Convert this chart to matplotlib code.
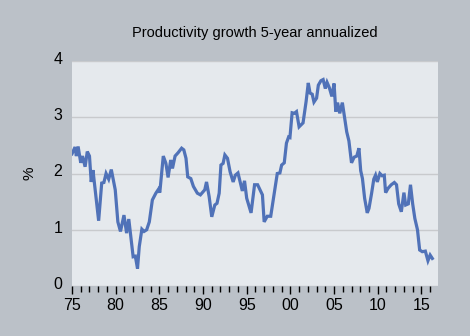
import matplotlib.pyplot as plt
import matplotlib.transforms as mtransforms
from matplotlib.ticker import FixedLocator, MultipleLocator

plt.rcParams['font.family'] = ['Liberation Sans', 'DejaVu Sans']

# productivity growth, 5-year annualized (%)
years = [
    1975.0, 1975.35, 1975.5, 1975.7, 1976.0, 1976.2, 1976.5, 1976.75, 1977.0, 1977.2,
    1977.4, 1977.65, 1978.05, 1978.4, 1978.65, 1978.9, 1979.2, 1979.5, 1979.95, 1980.25,
    1980.55, 1980.95, 1981.25, 1981.5, 1982.0, 1982.25, 1982.5, 1982.7, 1983.0, 1983.25,
    1983.55, 1983.85, 1984.2, 1984.6, 1984.9, 1985.05, 1985.45, 1985.75, 1986.0, 1986.3,
    1986.5, 1986.8, 1987.15, 1987.55, 1987.8, 1988.05, 1988.25, 1988.6, 1988.9, 1989.35,
    1989.7, 1990.2, 1990.4, 1990.7, 1991.0, 1991.35, 1991.6, 1991.85, 1992.05, 1992.3,
    1992.5, 1992.8, 1993.1, 1993.45, 1993.7, 1994.0, 1994.5, 1994.75, 1995.0, 1995.5,
    1995.9, 1996.25, 1996.8, 1997.0, 1997.35, 1997.75, 1998.1, 1998.5, 1998.8, 1999.0,
    1999.3, 1999.55, 1999.8, 1999.95, 2000.2, 2000.45, 2000.7, 2001.0, 2001.2, 2001.45,
    2001.8, 2002.05, 2002.25, 2002.5, 2002.7, 2003.0, 2003.2, 2003.5, 2003.75, 2004.0,
    2004.2, 2004.45, 2004.75, 2005.0, 2005.2, 2005.4, 2005.65, 2005.95, 2006.25, 2006.45,
    2006.7, 2007.0, 2007.3, 2007.6, 2007.85, 2008.05, 2008.25, 2008.5, 2008.8, 2009.0,
    2009.3, 2009.55, 2009.75, 2009.95, 2010.25, 2010.5, 2010.75, 2010.9, 2011.2, 2011.55,
    2011.9, 2012.15, 2012.4, 2012.7, 2013.0, 2013.2, 2013.5, 2013.75, 2014.0, 2014.25,
    2014.55, 2014.8, 2015.1, 2015.45, 2015.75, 2016.0, 2016.25,
]
growth = [
    2.35, 2.47, 2.31, 2.48, 2.19, 2.31, 2.12, 2.39, 2.31, 1.85,
    2.06, 1.71, 1.16, 1.83, 1.84, 2.00, 1.90, 2.07, 1.71, 1.14,
    0.97, 1.26, 0.94, 1.19, 0.52, 0.53, 0.31, 0.70, 1.01, 0.97,
    1.00, 1.14, 1.53, 1.65, 1.72, 1.66, 2.31, 2.18, 1.93, 2.24,
    2.09, 2.31, 2.37, 2.45, 2.42, 2.27, 1.94, 1.91, 1.77, 1.65,
    1.62, 1.71, 1.85, 1.59, 1.23, 1.44, 1.47, 1.65, 2.15, 2.18,
    2.33, 2.27, 2.03, 1.85, 1.97, 2.01, 1.69, 1.87, 1.56, 1.30,
    1.80, 1.80, 1.62, 1.14, 1.24, 1.24, 1.59, 2.00, 2.01, 2.15,
    2.19, 2.54, 2.65, 2.64, 3.08, 3.07, 3.10, 2.83, 2.86, 2.90,
    3.28, 3.61, 3.43, 3.41, 3.27, 3.34, 3.57, 3.65, 3.67, 3.51,
    3.62, 3.53, 3.37, 3.60, 3.10, 3.26, 3.07, 3.26, 2.95, 2.74,
    2.58, 2.19, 2.29, 2.31, 2.45, 2.05, 1.91, 1.56, 1.30, 1.38,
    1.65, 1.90, 1.97, 1.85, 2.00, 1.96, 1.97, 1.66, 1.74, 1.80,
    1.84, 1.80, 1.46, 1.32, 1.66, 1.44, 1.46, 1.80, 1.46, 1.20,
    1.00, 0.64, 0.61, 0.62, 0.45, 0.55, 0.49,
]

major_years = [1975, 1980, 1985, 1990, 1995, 2000, 2005, 2010, 2015]
major_labels = ['75', '80', '85', '90', '95', '00', '05', '10', '15']
y_ticks = [0, 1, 2, 3, 4]

fig = plt.figure(figsize=(4.7, 3.36), dpi=100, facecolor='#bbc1c8')
ax = fig.add_axes([72 / 470, 50 / 336, 366 / 470, 225 / 336])
ax.set_facecolor('#e5e9ed')

ax.plot(years, growth, color='#5072b8', linewidth=2.3, solid_joinstyle='miter')

ax.set_xlim(1975, 2016.9)
ax.set_ylim(0, 4)

ax.xaxis.set_major_locator(FixedLocator(major_years))
ax.set_xticklabels(major_labels)
ax.xaxis.set_minor_locator(MultipleLocator(1))
ax.tick_params(axis='x', which='major', length=6, width=1, color='black',
               labelsize=11.5, pad=3)
ax.tick_params(axis='x', which='minor', length=4, width=1, color='black')

ax.set_yticks(y_ticks)
ax.tick_params(axis='y', length=0, labelsize=11.5, pad=7)
# labels sit a touch above their gridline
shift = mtransforms.ScaledTranslation(0, 3 / 100, fig.dpi_scale_trans)
for lbl in ax.get_yticklabels():
    lbl.set_transform(lbl.get_transform() + shift)

ax.grid(True, axis='y', color='#c8cacd', linewidth=1)
ax.set_axisbelow(True)
for s in ax.spines.values():
    s.set_visible(False)

ax.set_ylabel('%', fontsize=11, labelpad=12)
ax.set_title('Productivity growth 5-year annualized', fontsize=10.5, pad=17)

fig.savefig('out.png', dpi=100, facecolor=fig.get_facecolor())
